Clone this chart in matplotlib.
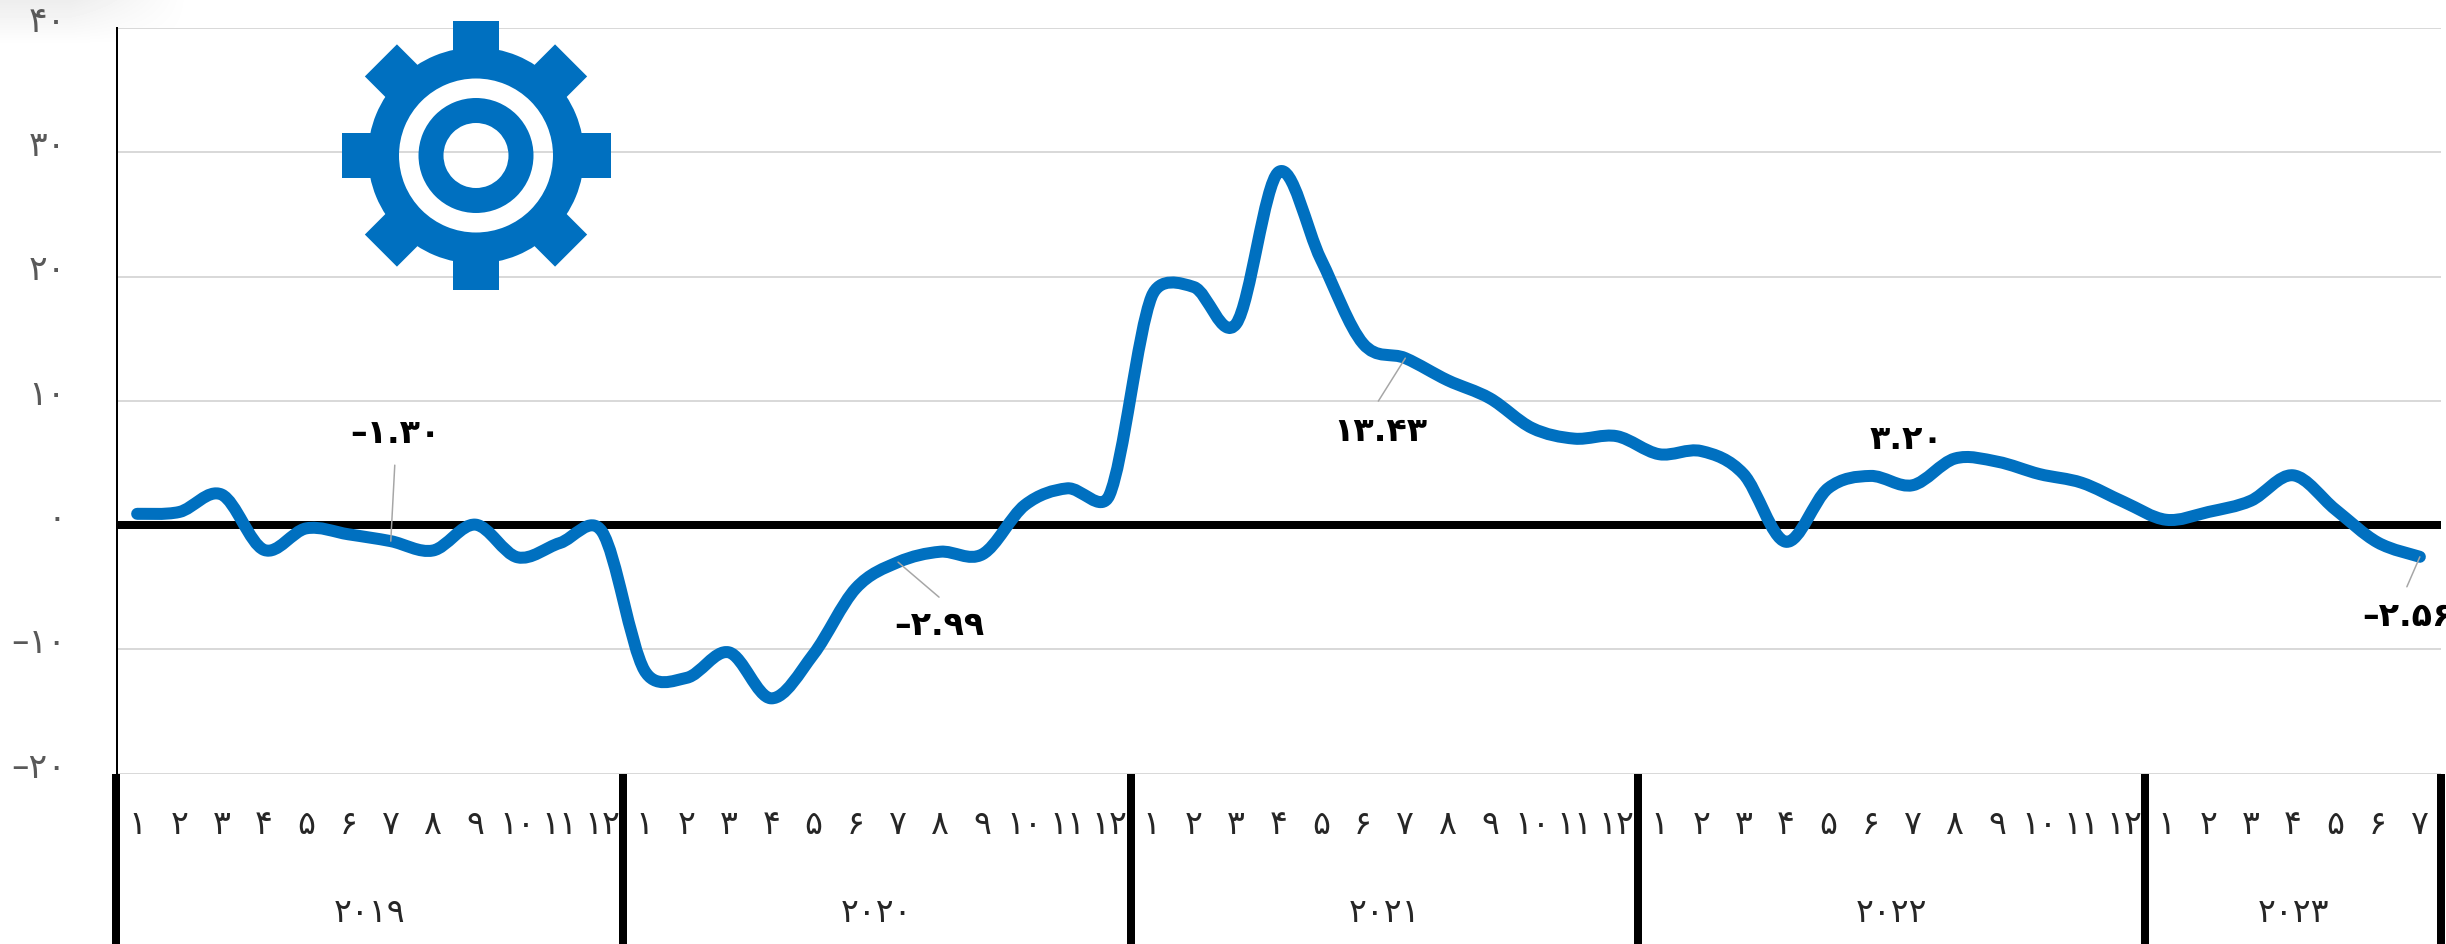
#! /usr/bin/env python

# plot.py
# Monthly series 2019-2023 with a smoothed line, gear icon and two level month/year axis

import numpy as np
import matplotlib
matplotlib.use('Agg')
import matplotlib.pyplot as plt
from matplotlib.path import Path
from matplotlib.patches import PathPatch, Annulus, Rectangle
from matplotlib.transforms import Affine2D

# Data
values_2019 = [0.9, 1.05, 2.45, -2.0, -0.27, -0.75, -1.30, -2.05, 0.03, -2.6, -1.45, -0.55]
values_2020 = [-11.7, -12.3, -10.25, -13.95, -10.4, -5.1, -2.99, -2.15, -2.35, 1.6, 2.95, 2.4]
values_2021 = [18.4, 19.15, 16.2, 28.4, 21.4, 14.6, 13.43, 11.65, 10.2, 7.8, 6.95, 7.15]
values_2022 = [5.7, 5.95, 4.1, -1.35, 2.95, 3.95, 3.20, 5.35, 5.1, 4.1, 3.4, 1.85]
values_2023 = [0.42, 1.05, 1.95, 4.0, 1.25, -1.4, -2.56]

years = ['۲۰۱۹', '۲۰۲۰', '۲۰۲۱', '۲۰۲۲', '۲۰۲۳']
year_lengths = [12, 12, 12, 12, 7]
month_labels = ['۱', '۲', '۳', '۴', '۵', '۶', '۷', '۸', '۹', '۱۰', '۱۱', '۱۲']

y_ticks = [-20, -10, 0, 10, 20, 30, 40]
y_labels = ['–۲۰', '–۱۰', '۰', '۱۰', '۲۰', '۳۰', '۴۰']

# index of the point, label, then text and leader offsets in pixels
point_labels = [
    (6, '–۱.۳۰', (5, 108), (4, 76)),
    (18, '–۲.۹۹', (41, -63), (41, -35)),
    (30, '۱۳.۴۳', (-25, -73), (-27, -43)),
    (42, '۳.۲۰', (-6, 46), None),
    (54, '–۲.۵۶', (-12, -60), (-13, -30)),
]

BLUE = '#0070C0'
PX = 0.72  # one pixel in points at dpi 100


def smooth_path(x, y, sx, sy):
    '''
    Bezier path through the points, the way a spreadsheet smooths a line.
    sx and sy are pixels per data unit, handles are kept to half of their segment.
    '''
    scale = np.array([sx, sy])
    pts = np.column_stack([x, y]) * scale
    last = len(pts) - 1

    def handle(tangent, segment):
        size = np.linalg.norm(tangent) / 6
        limit = np.linalg.norm(segment) / 2
        return tangent / 6 if size <= limit else tangent / 6 * limit / size

    verts = [pts[0]]
    codes = [Path.MOVETO]
    for i in range(last):
        segment = pts[i + 1] - pts[i]
        out_handle = handle(pts[i + 1] - pts[max(i - 1, 0)], segment)
        in_handle = handle(pts[min(i + 2, last)] - pts[i], segment)
        verts += [pts[i] + out_handle, pts[i + 1] - in_handle, pts[i + 1]]
        codes += [Path.CURVE4] * 3
    return Path(np.array(verts) / scale, codes)


def draw_gear(fig):
    '''
    Gear icon in its own small axes, see-through so the grid shows in the rings.
    '''
    size = 135
    cx, cy = 476, 155.5
    gear_ax = fig.add_axes([(cx - size) / 2446, (944 - cy - size) / 944, 2 * size / 2446, 2 * size / 944])
    gear_ax.set_xlim(-size, size)
    gear_ax.set_ylim(-size, size)
    gear_ax.axis('off')
    gear_ax.add_patch(Annulus((0, 0), 108, 31, color=BLUE, lw=0))
    gear_ax.add_patch(Annulus((0, 0), 57.5, 25, color=BLUE, lw=0))
    for angle in range(0, 360, 45):
        tooth = Rectangle((-22.7, 98), 45.4, 36.5, color=BLUE, lw=0)
        tooth.set_transform(Affine2D().rotate_deg(angle) + gear_ax.transData)
        gear_ax.add_patch(tooth)


def draw_corner_shade(fig):
    '''
    Faint grey shade in the top left corner of the picture.
    '''
    shade_ax = fig.add_axes([0, (944 - 45) / 944, 190 / 2446, 45 / 944])
    fade_x = np.clip((190 - np.arange(190)) / 120, 0, 1)
    fade_y = np.clip((45 - np.arange(45)) / 45, 0, 1)
    shade_ax.imshow(1 - 0.07 * np.outer(fade_y, fade_x), cmap='gray', vmin=0, vmax=1, aspect='auto')
    shade_ax.axis('off')


# Plot the Data
plt.rcParams['font.family'] = ['DejaVu Sans']
fig = plt.figure(figsize=(24.46, 9.44), dpi=100, facecolor='white')
draw_corner_shade(fig)
ax = fig.add_axes([116 / 2446, (944 - 773.5) / 944, (2441 - 116) / 2446, (773.5 - 28) / 944])

values = values_2019 + values_2020 + values_2021 + values_2022 + values_2023
x = np.arange(len(values)) + 0.5

for side in ['top', 'right', 'bottom']:
    ax.spines[side].set_visible(False)
ax.spines['left'].set_linewidth(2 * PX)
ax.spines['left'].set_position(('outward', -1))

ax.set_xlim(0, len(values))
ax.set_ylim(-20, 40)
ax.set_yticks(y_ticks)
ax.set_yticklabels(y_labels)
ax.set_xticks([])
ax.grid(axis='y', color='#D9D9D9', lw=2 * PX, zorder=0)
ax.set_axisbelow(True)
ax.tick_params(axis='y', length=0, pad=37, labelsize=25, labelcolor='#595959')
# tick labels sit a little above their grid lines
for label in ax.get_yticklabels():
    label.set_transform(label.get_transform() + Affine2D().translate(0, 9.5))

ax.axhline(0, color='black', lw=8 * PX, zorder=2, solid_capstyle='butt')
sx = (2441 - 116) / len(values)
sy = (773.5 - 28) / 60
ax.add_patch(PathPatch(smooth_path(x, values, sx, sy), fill=False, edgecolor=BLUE, lw=12 * PX,
                       capstyle='round', joinstyle='round', zorder=3, clip_on=False))

# point labels with their leaders
for index, text, text_offset, line_offset in point_labels:
    point = (x[index], values[index])
    if line_offset is not None:
        ax.annotate('', xy=point, xytext=line_offset, textcoords='offset pixels', zorder=4,
                    arrowprops=dict(arrowstyle='-', color='#A6A6A6', lw=1.5 * PX, shrinkA=0, shrinkB=0))
    ax.annotate(text, xy=point, xytext=text_offset, textcoords='offset pixels', zorder=5,
                ha='center', va='center', fontsize=24, fontweight='bold', color='black')

# two level category axis
trans = ax.get_xaxis_transform()
position = 0
for year, length in zip(years, year_lengths):
    ax.plot([position, position], [0, -0.24], transform=trans, color='black', lw=8 * PX,
            clip_on=False, solid_capstyle='butt', zorder=5)
    for m in range(length):
        ax.text(position + m + 0.5, -0.069, month_labels[m], transform=trans, ha='center', va='center',
                fontsize=24, color='#262626')
    ax.text(position + length / 2, -0.187, year, transform=trans, ha='center', va='center',
            fontsize=24, color='#262626')
    position += length
ax.plot([position, position], [0, -0.24], transform=trans, color='black', lw=8 * PX,
        clip_on=False, solid_capstyle='butt', zorder=5)

draw_gear(fig)

fig.savefig('out.png', dpi=100)
